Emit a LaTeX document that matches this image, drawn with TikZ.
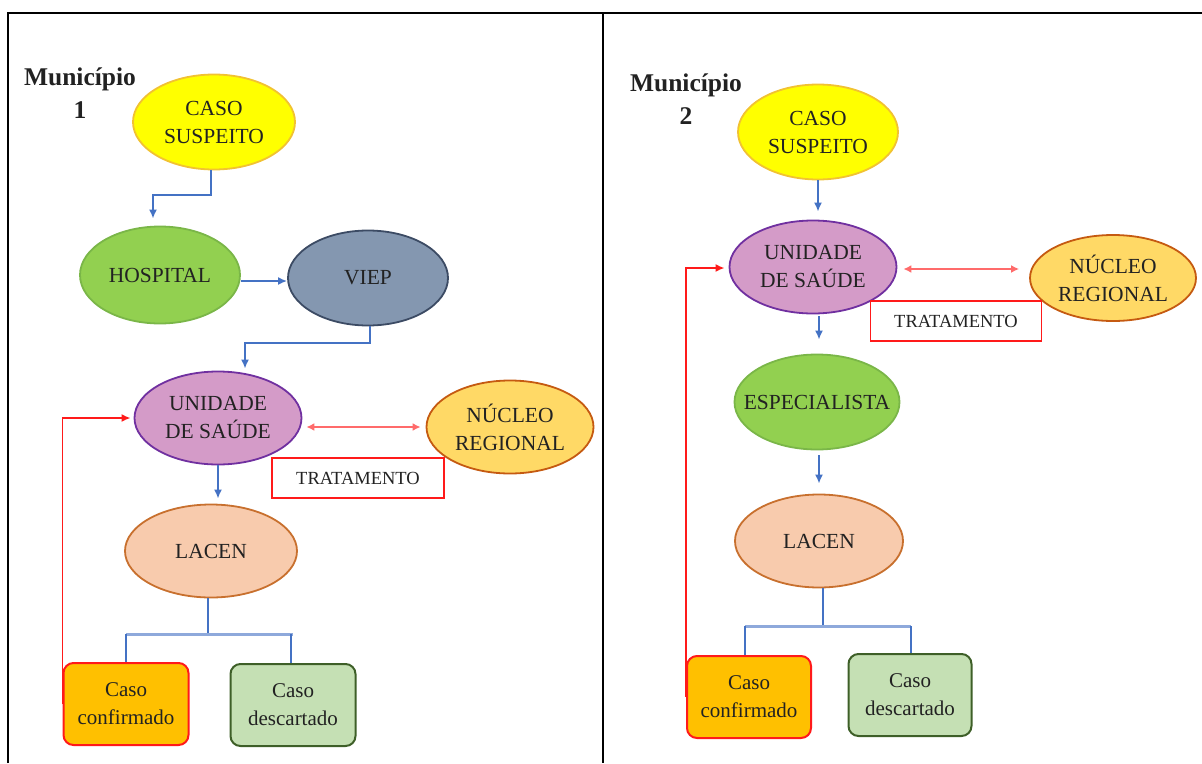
\documentclass[tikz,border=0pt]{standalone}
\usepackage{fontspec}
\setmainfont{Liberation Serif}
\usetikzlibrary{shapes.geometric,arrows.meta,calc}
\definecolor{cyel}{HTML}{FFFF00}
\definecolor{cyelb}{HTML}{F1C232}
\definecolor{cgrn}{HTML}{92D050}
\definecolor{cgrnb}{HTML}{7AB648}
\definecolor{cviep}{HTML}{8497B0}
\definecolor{cviepb}{HTML}{3C4B64}
\definecolor{cuni}{HTML}{D49BC8}
\definecolor{cunib}{HTML}{7030A0}
\definecolor{cnuc}{HTML}{FFD966}
\definecolor{cnucb}{HTML}{C55A11}
\definecolor{clac}{HTML}{F8CBAD}
\definecolor{clacb}{HTML}{C8702E}
\definecolor{cconf}{HTML}{FFC000}
\definecolor{cdesc}{HTML}{C5E0B4}
\definecolor{cdescb}{HTML}{3E5F28}
\definecolor{cblue}{HTML}{4472C4}
\definecolor{clblue}{HTML}{8EA9DB}
\definecolor{cred}{HTML}{FF1A1A}
\definecolor{clred}{HTML}{FF6B6B}
\definecolor{ctext}{HTML}{222222}
\tikzset{
  ell/.style={ellipse, inner xsep=-30pt, inner ysep=-12pt, align=center, line width=1.8pt, text=ctext, font=\fontsize{21.5}{28}\selectfont},
  boxn/.style={rectangle, rounded corners=10pt, inner sep=0pt, align=center, line width=2pt, text=ctext, minimum width=125pt, minimum height=82pt, font=\fontsize{21}{28}\selectfont},
  trat/.style={rectangle, draw=cred, fill=white, line width=1.8pt, minimum width=172pt, minimum height=40pt, inner sep=0pt, text=ctext, font=\fontsize{18.5}{20}\selectfont},
  mun/.style={align=center, text=ctext, font=\bfseries\fontsize{25.5}{33}\selectfont},
  barrow/.style={draw=cblue, line width=2pt, -{Latex[length=9pt,width=8pt]}},
  bline/.style={draw=cblue, line width=2.5pt},
  lbline/.style={draw=clblue, line width=2.5pt},
  rarrow/.style={draw=cred, line width=1.8pt, -{Latex[length=9pt,width=8pt]}},
  rbiarrow/.style={draw=clred, line width=2.2pt, {Latex[length=8pt,width=8pt]}-{Latex[length=8pt,width=8pt]}},
}
\begin{document}
\begin{tikzpicture}[x=1pt,y=-1pt]
\useasboundingbox (0,0) rectangle (1202,763);
% frame
\draw[line width=2.2pt] (8,763) -- (8,13) -- (1202,13);
\draw[line width=2.2pt] (603,13) -- (603,763);

% ---------- Panel 1 ----------
\node[mun] (m1) at (80,93) {Município\\1};
\node[ell, fill=cyel, draw=cyelb, minimum width=162pt, minimum height=95pt] (cs1) at (214,122) {CASO\\SUSPEITO};
\node[ell, fill=cgrn, draw=cgrnb, minimum width=160pt, minimum height=97pt] (hosp1) at (160,275) {HOSPITAL};
\node[ell, fill=cviep, draw=cviepb, minimum width=160pt, minimum height=95pt] (viep1) at (368,278) {VIEP};
\node[ell, fill=cuni, draw=cunib, minimum width=167pt, minimum height=93pt] (uni1) at (218,418) {UNIDADE\\DE SAÚDE};
\node[ell, fill=cnuc, draw=cnucb, minimum width=167pt, minimum height=93pt] (nuc1) at (510,427) {NÚCLEO\\REGIONAL};
\node[trat] (tr1) at (358,478) {TRATAMENTO};
\node[ell, fill=clac, draw=clacb, minimum width=172pt, minimum height=93pt] (lac1) at (211,551) {LACEN};
\node[boxn, fill=cconf, draw=cred] (conf1) at (126,704) {Caso\\confirmado};
\node[boxn, fill=cdesc, draw=cdescb] (desc1) at (293,705) {Caso\\descartado};

\draw[barrow, shorten >=7pt] ([xshift=-3pt]cs1.south) -- ++(0,25) -| ([xshift=-7pt]hosp1.north);
\draw[barrow] ([yshift=-6pt]hosp1.east) -- ([yshift=-6pt]hosp1.east -| viep1.west);
\draw[barrow, shorten >=2pt] ([xshift=2pt]viep1.south) -- ++(0,17) -| ([xshift=27pt]uni1.north);
\draw[rbiarrow, shorten <=4pt, shorten >=5pt] (uni1.east |- nuc1.west) -- (nuc1.west);
\draw[barrow, shorten >=5pt] (uni1.south) -- (uni1.south |- lac1.north);
\draw[bline] ([xshift=-3pt]lac1.south) -- ++(0,36) coordinate (br1);
\draw[lbline] (conf1.north |- br1) -- (desc1.north |- br1);
\draw[bline] (conf1.north |- br1) -- (conf1.north);
\draw[bline] ([xshift=-2pt]desc1.north |- br1) -- ([xshift=-2pt]desc1.north);
\draw[rarrow, shorten >=3pt] (conf1.west) |- (uni1.west);

% ---------- Panel 2 ----------
\node[mun] (m2) at (686,99) {Município\\2};
\node[ell, fill=cyel, draw=cyelb, minimum width=160pt, minimum height=95pt] (cs2) at (818,132) {CASO\\SUSPEITO};
\node[ell, fill=cuni, draw=cunib, minimum width=167pt, minimum height=93pt] (uni2) at (813,267) {UNIDADE\\DE SAÚDE};
\node[ell, fill=cnuc, draw=cnucb, minimum width=166pt, minimum height=86pt] (nuc2) at (1113,278) {NÚCLEO\\REGIONAL};
\node[trat, minimum width=171pt] (tr2) at (956,321) {TRATAMENTO};
\node[ell, fill=cgrn, draw=cgrnb, minimum width=165pt, minimum height=95pt] (esp2) at (817,402) {ESPECIALISTA};
\node[ell, fill=clac, draw=clacb, minimum width=168pt, minimum height=93pt] (lac2) at (819,541) {LACEN};
\node[boxn, fill=cconf, draw=cred, minimum width=124pt] (conf2) at (749,697) {Caso\\confirmado};
\node[boxn, fill=cdesc, draw=cdescb, minimum width=123pt] (desc2) at (910,695) {Caso\\descartado};

\draw[barrow, shorten >=8pt] (cs2.south) -- (cs2.south |- uni2.north);
\draw[rbiarrow, shorten <=6pt, shorten >=10pt] ([yshift=-2pt]uni2.east) -- ([yshift=-2pt]uni2.east -| nuc2.west);
\draw[barrow, shorten <=2pt, shorten >=14pt] ([xshift=6pt]uni2.south) -- ([xshift=6pt]uni2.south |- esp2.north);
\draw[barrow, shorten <=5pt, shorten >=10pt] ([xshift=2pt]esp2.south) -- ([xshift=2pt]esp2.south |- lac2.north);
\draw[bline] ([xshift=4pt]lac2.south) -- ++(0,38) coordinate (br2);
\draw[lbline] ([xshift=-4pt]conf2.north |- br2) -- ([xshift=1pt]desc2.north |- br2);
\draw[bline] ([xshift=-4pt]conf2.north |- br2) -- ([xshift=-4pt]conf2.north);
\draw[bline] ([xshift=1pt]desc2.north |- br2) -- ([xshift=1pt]desc2.north);
\draw[rarrow, shorten >=4pt] (conf2.west) |- ([yshift=-1pt]uni2.west);
\end{tikzpicture}
\end{document}
